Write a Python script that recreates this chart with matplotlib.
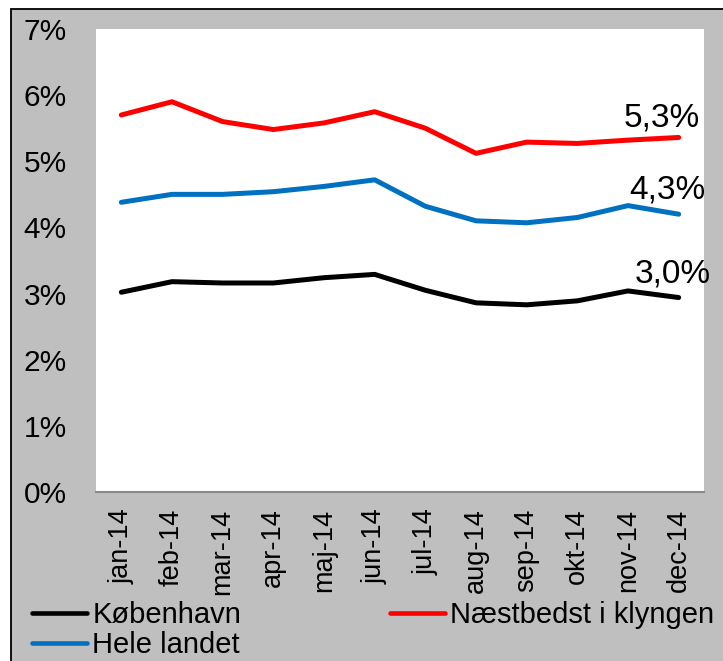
import matplotlib
matplotlib.use("Agg")
import matplotlib.pyplot as plt
from matplotlib.patches import Rectangle

plt.rcParams['font.family'] = ['Liberation Sans', 'DejaVu Sans']

months = ["jan-14", "feb-14", "mar-14", "apr-14", "maj-14", "jun-14",
          "jul-14", "aug-14", "sep-14", "okt-14", "nov-14", "dec-14"]
kobenhavn = [3.02, 3.18, 3.16, 3.16, 3.24, 3.29, 3.05, 2.86, 2.83, 2.89, 3.04, 2.94]
hele_landet = [4.38, 4.50, 4.50, 4.54, 4.62, 4.72, 4.32, 4.10, 4.07, 4.15, 4.33, 4.20]
naestbedst = [5.70, 5.90, 5.60, 5.48, 5.58, 5.75, 5.50, 5.12, 5.29, 5.27, 5.32, 5.36]
end_labels = ["3,0%", "4,3%", "5,3%"]
yticks = [0, 1, 2, 3, 4, 5, 6, 7]
ytick_labels = ["0%", "1%", "2%", "3%", "4%", "5%", "6%", "7%"]

W, H = 723, 661
fig = plt.figure(figsize=(W / 100, H / 100), dpi=100, facecolor="white")

# Outer gray chart area with black border
bg = Rectangle((11 / W, -0.1), 1.2, 1 - 9 / H + 0.1,
               transform=fig.transFigure, facecolor="#BFBFBF",
               edgecolor="black", linewidth=1.3, zorder=-10)
fig.add_artist(bg)

ax = fig.add_axes([96 / W, 1 - 492 / H, 608 / W, 463 / H])
ax.set_zorder(1)
ax.set_facecolor("white")

x = list(range(len(months)))
lw = 3.6
l1, = ax.plot(x, kobenhavn, color="black", lw=lw, solid_capstyle="round", label="København")
l3, = ax.plot(x, naestbedst, color="#FF0000", lw=lw, solid_capstyle="round", label="Næstbedst i klyngen")
l2, = ax.plot(x, hele_landet, color="#0070C0", lw=lw, solid_capstyle="round", label="Hele landet")

ax.set_xlim(-0.5, len(months) - 0.5)
ax.set_ylim(0, 7)
ax.set_yticks(yticks)
ax.set_yticklabels(ytick_labels, fontsize=21.5)
ax.set_xticks(x)
ax.set_xticklabels(months, rotation=90, fontsize=19.5)
ax.tick_params(axis="y", length=0, pad=21)
ax.tick_params(axis="x", length=0, pad=12)
for s in ["left", "right", "top"]:
    ax.spines[s].set_visible(False)
ax.spines["bottom"].set_color("#898989")
ax.spines["bottom"].set_linewidth(1.5)

# End data labels
series = [kobenhavn, hele_landet, naestbedst]
offsets = [(-4, 10.5), (-8, 11.5), (-12, 7.8)]
for s, lab, off in zip(series, end_labels, offsets):
    ax.annotate(lab, xy=(x[-1], s[-1]), xytext=off, textcoords="offset points",
                ha="center", va="baseline", fontsize=24, annotation_clip=False)

leg = fig.legend(handles=[l1, l2, l3], labels=["København", "Hele landet", "Næstbedst i klyngen"],
                 ncol=2, loc="upper left", bbox_to_anchor=(32 / W, 1 - 601 / H),
                 frameon=False, fontsize=21.0, handlelength=1.9, handletextpad=0.17,
                 columnspacing=5.1, labelspacing=0.08, borderaxespad=0, borderpad=0)
for h in leg.get_lines():
    h.set_linewidth(3.3)

fig.savefig("out.png", dpi=100, facecolor="white")
